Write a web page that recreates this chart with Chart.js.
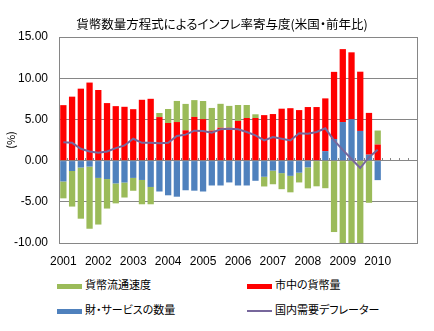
<!DOCTYPE html>
<html>
<head>
<meta charset="utf-8">
<script src="https://cdn.jsdelivr.net/npm/chart.js@4/dist/chart.umd.min.js"></script>
<style>
  html, body { margin: 0; padding: 0; background: #fff; }
  #wrap { position: relative; width: 434px; height: 331px; }
  #box { position: absolute; left: 0; top: 0; width: 434px; height: 272px; }
  #title { position: absolute; left: 0; top: 14px; width: 444px; text-align: center;
           font: 12.5px "Noto Sans CJK JP", sans-serif; font-feature-settings: "palt";
           color: #000; white-space: nowrap; }
  .lg { position: absolute; font: 11px "Noto Sans CJK JP", sans-serif; font-feature-settings: "palt";
        color: #000; white-space: nowrap; }
  .lg i { display: inline-block; width: 25px; vertical-align: middle; margin-right: 3px; }
</style>
</head>
<body>
<div id="wrap">
  <div id="box"><canvas id="chart"></canvas></div>
  <div id="title">貨幣数量方程式によるインフレ率寄与度(米国・前年比)</div>
  <div class="lg" style="left:57px; top:276px;"><i style="height:5px;background:#9bbb59"></i>貨幣流通速度</div>
  <div class="lg" style="left:247px; top:276px;"><i style="height:5px;background:#ff0000"></i>市中の貨幣量</div>
  <div class="lg" style="left:57px; top:301px;"><i style="height:5px;background:#4f81bd"></i>財・サービスの数量</div>
  <div class="lg" style="left:247px; top:301px;"><i style="height:2px;background:#77679c"></i>国内需要デフレーター</div>
</div>
<script>
// ── 四半期ラベル (2001Q1 〜 2011Q1) ──────────────────────────
const xLabels = [
  '2001','','','', '2002','','','', '2003','','','', '2004','','','',
  '2005','','','', '2006','','','', '2007','','','', '2008','','','',
  '2009','','','', '2010','','','', ''
];

// 貨幣流通速度
const velocity = [
  -2.05, -4.32, -6.21, -7.54, -5.66, -3.58, -2.42, -1.82, -1.56, -2.95, -2.1,
  0.5, 1.7, 2.56, 3.2, 2.04, 2.2, 2.75, 2.9, 2.65, 1.94, 1.58, 0.45,
  -1.18, -1.65, -1.95, -2.0, -1.18, -2.55, -3.12, -3.35, -8.67, -11.0, -11.5, -11.0, -5.12, 1.7
];
// 市中の貨幣量
const money = [
  6.73, 7.76, 8.73, 9.47, 8.57, 6.98, 6.61, 6.53, 6.24, 7.38, 7.5,
  5.28, 4.56, 4.68, 3.68, 5.3, 5.03, 3.64, 3.99, 3.99, 4.81, 5.17, 5.17,
  5.52, 5.65, 6.3, 6.36, 6.13, 6.5, 6.5, 6.4, 8.15, 8.85, 8.13, 7.19, 5.07, 1.95
];
// 財・サービスの数量
const quantity = [
  -2.53, -1.26, -0.84, -0.73, -2.1, -2.24, -2.77, -2.66, -2.1, -2.35, -3.2,
  -3.75, -4.21, -4.38, -3.6, -3.65, -3.75, -3.02, -3.02, -2.65, -3.02, -3.02, -2.45,
  -1.96, -1.22, -1.52, -1.85, -1.47, -0.82, 0, 1.15, 2.62, 4.68, 5.01, 3.6, 0.72, -2.37
];
// 国内需要デフレーター
const deflator = [
  2.24, 2.16, 1.43, 1.1, 0.94, 1.1, 1.51, 1.84, 2.65, 2.16, 2.16,
  2.12, 2.16, 2.98, 3.15, 3.63, 3.59, 3.39, 3.8, 3.88, 3.8, 3.47, 3.06,
  2.45, 2.86, 2.65, 2.45, 3.33, 3.27, 3.47, 3.92, 2.46, 1.31, 0.2, -0.9, 0.41, 1.31
];

const yTicks = [-10, -5, 0, 5, 10, 15];

const gridGray = '#868686';
const tickFont = { family: '"Liberation Sans", Arial, sans-serif', size: 12 };

// 外枠
const frame = {
  id: 'frame',
  afterDatasetsDraw(chart) {
    const { ctx, chartArea: a } = chart;
    ctx.save();
    ctx.strokeStyle = gridGray;
    ctx.lineWidth = 1;
    ctx.strokeRect(Math.round(a.left) + 0.5, Math.round(a.top) + 0.5,
                   Math.round(a.right - a.left), Math.round(a.bottom - a.top));
    ctx.restore();
  }
};

const barBase = { type: 'bar', barPercentage: 0.72, categoryPercentage: 1, stack: 'bars', borderWidth: 0 };

new Chart(document.getElementById('chart'), {
  data: {
    labels: xLabels,
    datasets: [
      { ...barBase, label: '貨幣流通速度', data: velocity, backgroundColor: '#9bbb59', order: 3 },
      { ...barBase, label: '市中の貨幣量', data: money, backgroundColor: '#ff0000', order: 2 },
      { ...barBase, label: '財・サービスの数量', data: quantity, backgroundColor: '#4f81bd', order: 1 },
      {
        type: 'line', label: '国内需要デフレーター', data: deflator, stack: 'line',
        borderColor: '#77679c', borderWidth: 2, pointRadius: 0, tension: 0, fill: false, order: 0
      }
    ]
  },
  options: {
    responsive: true,
    maintainAspectRatio: false,
    animation: false,
    layout: { padding: { left: 4, right: 17, top: 37, bottom: 0 } },
    plugins: {
      legend: { display: false },
      tooltip: { enabled: false },
      title: { display: false }
    },
    scales: {
      x: {
        stacked: true,
        offset: true,
        grid: { display: false },
        border: { display: false },
        ticks: { autoSkip: false, maxRotation: 0, color: '#000', font: tickFont, padding: 3 },
        afterFit: (s) => { s.height = 29; }
      },
      x2: {
        type: 'category',
        position: { y: 0 },
        offset: true,
        grid: { offset: true, drawOnChartArea: false, tickLength: -3, color: gridGray },
        border: { color: gridGray },
        ticks: { display: false },
        afterFit: (s) => { s.height = 0; }
      },
      y: {
        stacked: true,
        min: -10,
        max: 15,
        afterBuildTicks: (s) => { s.ticks = yTicks.map(v => ({ value: v })); },
        grid: { color: gridGray, drawTicks: false },
        border: { display: false },
        ticks: { color: '#000', font: tickFont, padding: 11, callback: (v) => Number(v).toFixed(2) },
        title: { display: true, text: '(%)', color: '#000', font: { family: '"Noto Sans CJK JP", sans-serif', size: 11 }, padding: 0 },
        afterFit: (s) => { s.width = 55; }
      }
    }
  },
  plugins: [frame]
});
</script>
</body>
</html>
